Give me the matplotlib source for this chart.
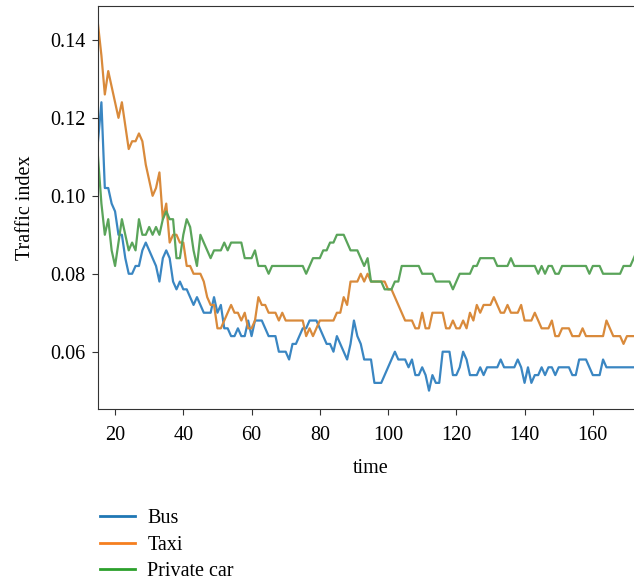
import matplotlib
matplotlib.use("Agg")
import matplotlib.pyplot as plt
from matplotlib.lines import Line2D
import numpy as np

plt.rcParams["font.family"] = ["Liberation Serif", "DejaVu Serif"]

t = np.arange(15, 176)

bus = [
    0.114, 0.124, 0.102, 0.102, 0.098, 0.096, 0.090, 0.090, 0.084, 0.080,  # 15-24
    0.080, 0.082, 0.082, 0.086, 0.088, 0.086, 0.084, 0.082, 0.078, 0.084,  # 25-34
    0.086, 0.084, 0.078, 0.076, 0.078, 0.076, 0.076, 0.074, 0.072, 0.074,  # 35-44
    0.072, 0.070, 0.070, 0.070, 0.074, 0.070, 0.072, 0.066, 0.066, 0.064,  # 45-54
    0.064, 0.066, 0.064, 0.064, 0.068, 0.064, 0.068, 0.068, 0.068, 0.066,  # 55-64
    0.064, 0.064, 0.064, 0.060, 0.060, 0.060, 0.058, 0.062, 0.062, 0.064,  # 65-74
    0.066, 0.066, 0.068, 0.068, 0.068, 0.066, 0.064, 0.062, 0.062, 0.060,  # 75-84
    0.064, 0.062, 0.060, 0.058, 0.062, 0.068, 0.064, 0.062, 0.058, 0.058,  # 85-94
    0.058, 0.052, 0.052, 0.052, 0.054, 0.056, 0.058, 0.060, 0.058, 0.058,  # 95-104
    0.058, 0.056, 0.058, 0.054, 0.054, 0.056, 0.054, 0.050, 0.054, 0.052,  # 105-114
    0.052, 0.060, 0.060, 0.060, 0.054, 0.054, 0.056, 0.060, 0.058, 0.054,  # 115-124
    0.054, 0.054, 0.056, 0.054, 0.056, 0.056, 0.056, 0.056, 0.058, 0.056,  # 125-134
    0.056, 0.056, 0.056, 0.058, 0.056, 0.052, 0.056, 0.052, 0.054, 0.054,  # 135-144
    0.056, 0.054, 0.056, 0.056, 0.054, 0.056, 0.056, 0.056, 0.056, 0.054,  # 145-154
    0.054, 0.058, 0.058, 0.058, 0.056, 0.054, 0.054, 0.054, 0.058, 0.056,  # 155-164
    0.056, 0.056, 0.056, 0.056, 0.056, 0.056, 0.056, 0.056, 0.056, 0.056,  # 165-174
    0.056,
]

taxi = [
    0.144, 0.136, 0.126, 0.132, 0.128, 0.124, 0.120, 0.124, 0.118, 0.112,  # 15-24
    0.114, 0.114, 0.116, 0.114, 0.108, 0.104, 0.100, 0.102, 0.106, 0.094,  # 25-34
    0.098, 0.088, 0.090, 0.090, 0.088, 0.088, 0.082, 0.082, 0.080, 0.080,  # 35-44
    0.080, 0.078, 0.074, 0.072, 0.072, 0.066, 0.066, 0.068, 0.070, 0.072,  # 45-54
    0.070, 0.070, 0.068, 0.070, 0.066, 0.066, 0.068, 0.074, 0.072, 0.072,  # 55-64
    0.070, 0.070, 0.070, 0.068, 0.070, 0.068, 0.068, 0.068, 0.068, 0.068,  # 65-74
    0.068, 0.064, 0.066, 0.064, 0.066, 0.068, 0.068, 0.068, 0.068, 0.068,  # 75-84
    0.070, 0.070, 0.074, 0.072, 0.078, 0.078, 0.078, 0.080, 0.078, 0.080,  # 85-94
    0.078, 0.078, 0.078, 0.078, 0.078, 0.076, 0.076, 0.074, 0.072, 0.070,  # 95-104
    0.068, 0.068, 0.068, 0.066, 0.066, 0.070, 0.066, 0.066, 0.070, 0.070,  # 105-114
    0.070, 0.070, 0.066, 0.066, 0.068, 0.066, 0.066, 0.068, 0.066, 0.070,  # 115-124
    0.068, 0.072, 0.070, 0.072, 0.072, 0.072, 0.074, 0.072, 0.070, 0.070,  # 125-134
    0.072, 0.070, 0.070, 0.070, 0.072, 0.068, 0.068, 0.068, 0.070, 0.068,  # 135-144
    0.066, 0.066, 0.066, 0.068, 0.064, 0.064, 0.066, 0.066, 0.066, 0.064,  # 145-154
    0.064, 0.064, 0.066, 0.064, 0.064, 0.064, 0.064, 0.064, 0.064, 0.068,  # 155-164
    0.066, 0.064, 0.064, 0.064, 0.062, 0.064, 0.064, 0.064, 0.064, 0.064,  # 165-174
    0.064,
]

car = [
    0.110, 0.098, 0.090, 0.094, 0.086, 0.082, 0.088, 0.094, 0.090, 0.086,  # 15-24
    0.088, 0.086, 0.094, 0.090, 0.090, 0.092, 0.090, 0.092, 0.090, 0.094,  # 25-34
    0.096, 0.094, 0.094, 0.084, 0.084, 0.090, 0.094, 0.092, 0.086, 0.082,  # 35-44
    0.090, 0.088, 0.086, 0.084, 0.086, 0.086, 0.086, 0.088, 0.086, 0.088,  # 45-54
    0.088, 0.088, 0.088, 0.084, 0.084, 0.084, 0.086, 0.082, 0.082, 0.082,  # 55-64
    0.080, 0.082, 0.082, 0.082, 0.082, 0.082, 0.082, 0.082, 0.082, 0.082,  # 65-74
    0.082, 0.080, 0.082, 0.084, 0.084, 0.084, 0.086, 0.086, 0.088, 0.088,  # 75-84
    0.090, 0.090, 0.090, 0.088, 0.086, 0.086, 0.086, 0.084, 0.082, 0.084,  # 85-94
    0.078, 0.078, 0.078, 0.078, 0.076, 0.076, 0.076, 0.078, 0.078, 0.082,  # 95-104
    0.082, 0.082, 0.082, 0.082, 0.082, 0.080, 0.080, 0.080, 0.080, 0.078,  # 105-114
    0.078, 0.078, 0.078, 0.078, 0.076, 0.078, 0.080, 0.080, 0.080, 0.080,  # 115-124
    0.082, 0.082, 0.084, 0.084, 0.084, 0.084, 0.084, 0.082, 0.082, 0.082,  # 125-134
    0.082, 0.084, 0.082, 0.082, 0.082, 0.082, 0.082, 0.082, 0.082, 0.080,  # 135-144
    0.082, 0.080, 0.082, 0.082, 0.080, 0.080, 0.082, 0.082, 0.082, 0.082,  # 145-154
    0.082, 0.082, 0.082, 0.082, 0.080, 0.082, 0.082, 0.082, 0.080, 0.080,  # 155-164
    0.080, 0.080, 0.080, 0.080, 0.082, 0.082, 0.082, 0.084, 0.086, 0.086,  # 165-174
    0.086,
]

names = ["Bus", "Taxi", "Private car"]
line_colors = ["#3a86c2", "#d98a3b", "#5aa45a"]
legend_colors = ["#1f77b4", "#f57f1f", "#2ca02c"]

fig = plt.figure(figsize=(6.34, 5.8), dpi=100)
ax = fig.add_axes([98 / 634, 1 - 409 / 580, 546 / 634, 403 / 580])

for y, c in zip([bus, taxi, car], line_colors):
    ax.plot(t, y, color=c, lw=1.6)

ax.set_xlim(15, 175)
ax.set_ylim(0.0453, 0.1487)
ax.set_xticks([20, 40, 60, 80, 100, 120, 140, 160])
ax.set_yticks([0.06, 0.08, 0.10, 0.12, 0.14])
ax.set_yticklabels(["0.06", "0.08", "0.10", "0.12", "0.14"])
ax.tick_params(labelsize=14.5, length=4, color="#333333")
ax.tick_params(axis="x", pad=8)
ax.tick_params(axis="y", pad=5)
for s in ax.spines.values():
    s.set_color("#333333")
ax.set_xlabel("time", fontsize=14.5, labelpad=10)
ax.set_ylabel("Traffic index", fontsize=14.5, labelpad=11)

handles = [Line2D([], [], color=c, lw=2) for c in legend_colors]
fig.legend(handles, names, loc="upper left", bbox_to_anchor=(100 / 634, 1 - 509 / 580),
           frameon=False, fontsize=14.5, borderpad=0, borderaxespad=0,
           handlelength=1.75, handletextpad=0.6, labelspacing=0.37)

fig.savefig("out.png", dpi=100)
